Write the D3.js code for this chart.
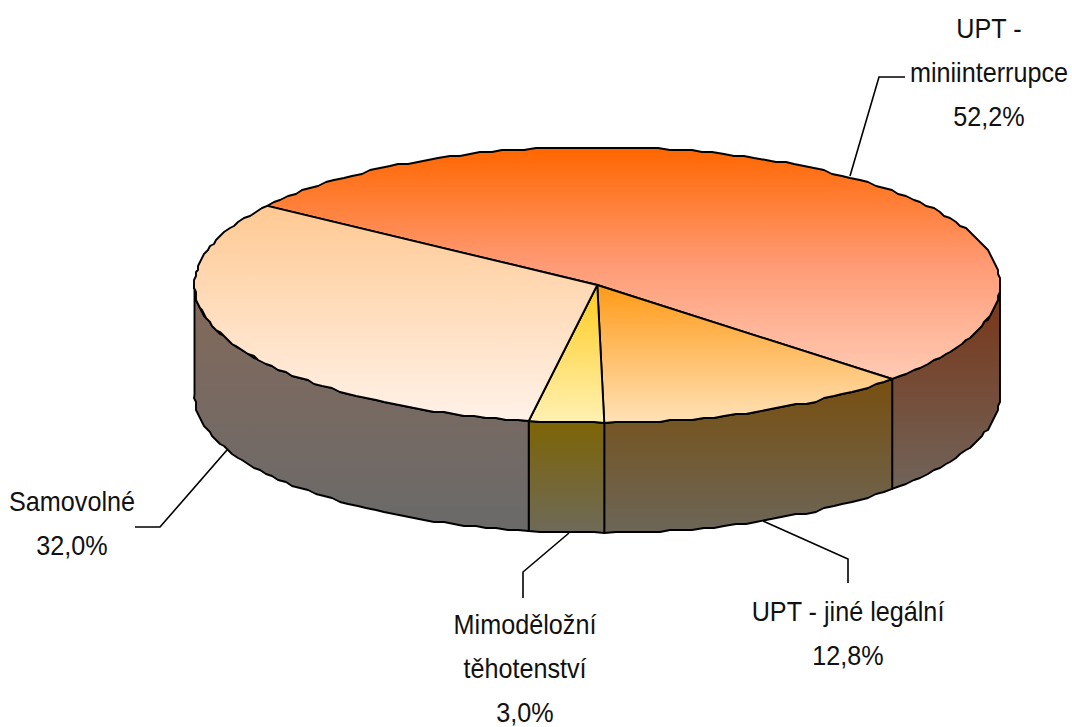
<!DOCTYPE html>
<html>
<head>
<meta charset="utf-8">
<script src="https://cdn.jsdelivr.net/npm/d3@7"></script>
<style>
  html, body { margin: 0; padding: 0; background: #fff; }
  text { font-family: "Liberation Sans", Arial, sans-serif; font-size: 28px; fill: #111; }
</style>
</head>
<body>
<svg id="chart" width="1072" height="727"></svg>
<script>
var categories = ["UPT - miniinterrupce", "UPT - jiné legální", "Mimoděložní těhotenství", "Samovolné"];
var shares = [52.2, 12.8, 3.0, 32.0];
var labelLines = [["UPT -", "miniinterrupce"], ["UPT - jiné legální"], ["Mimoděložní", "těhotenství"], ["Samovolné"]];

var topColors = [["#ff6600", "#ff9a74", "#ffcbb5"], ["#ff9a17", "#ffe2b8"], ["#ffcb1e", "#fff1b4"], ["#ffc993", "#fff2e9"]];
var sideColors = [["#7a3415", "#70645a"], ["#784f10", "#6c6658"], ["#7d6404", "#6e6a5a"], ["#84695a", "#6a6a6a"]];

// label anchor (x, first baseline) and leader line for each slice
var labelPos = [[989, 38], [848, 621], [525, 634], [72, 511]];
var leaders = [
  [[850, 176], [879, 77], [905, 77]],
  [[763, 521], [848, 559], [848, 583]],
  [[569, 533], [523, 572], [523, 598]],
  [[227, 450], [160, 527], [135, 527]]
];

var lineGap = 44, squeeze = 0.9, depth = 110, grid = 2;
var deg = Math.PI / 180;

var svg = d3.select("#chart");
var comma = d3.formatLocale({decimal: ",", thousands: " ", grouping: [3], currency: ["", ""]}).format(".1f");

var xScale = d3.scaleLinear().domain([-1, 1]).range([194.5, 1000]);
var yScale = d3.scaleLinear().domain([-1, 1]).range([147, 423]);

var pie = d3.pie().sort(null).startAngle(-55 * deg).endAngle(305 * deg);
var slices = pie(shares);

// the rim of the reference is slightly stepped, so snap it to a coarse grid
function snap(v) { return Math.round(v / grid) * grid; }
function rimPoint(a) { return [xScale(Math.sin(a)), yScale(-Math.cos(a))]; }
function rim(a0, a1) {
  var n = Math.max(2, Math.ceil((a1 - a0) / (1.6 * deg)));
  return d3.range(n + 1).map(function(i) {
    var p = rimPoint(a0 + (a1 - a0) * i / n);
    return (i == 0 || i == n) ? p : [snap(p[0]), snap(p[1])];
  });
}

var line = d3.line();
var defs = svg.append("defs");

function gradient(id, colors) {
  var g = defs.append("linearGradient").attr("id", id)
    .attr("x1", 0).attr("y1", 0).attr("x2", 0).attr("y2", 1);
  colors.forEach(function(c, i) {
    g.append("stop").attr("offset", i / (colors.length - 1)).attr("stop-color", c);
  });
}
topColors.forEach(function(c, i) { gradient("top" + i, c); });
sideColors.forEach(function(c, i) { gradient("side" + i, c); });

// walls first, only the part of the rim that faces the viewer
slices.forEach(function(s, i) {
  var a0 = Math.max(s.startAngle, 90 * deg), a1 = Math.min(s.endAngle, 270 * deg);
  if (a1 <= a0) return;
  var upper = rim(a0, a1);
  var lower = upper.slice().reverse().map(function(p) { return [p[0], p[1] + depth]; });
  svg.append("path")
    .attr("d", line(upper.concat(lower)) + "Z")
    .attr("fill", "url(#side" + i + ")")
    .attr("stroke", "#000")
    .attr("stroke-width", 1.9)
    .attr("stroke-linejoin", "round");
});

// top face
var centre = [xScale(0), yScale(0)];
slices.forEach(function(s, i) {
  var pts = [centre].concat(rim(s.startAngle, s.endAngle));
  svg.append("path")
    .attr("d", line(pts) + "Z")
    .attr("fill", "url(#top" + i + ")")
    .attr("stroke", "#000")
    .attr("stroke-width", 1.9)
    .attr("stroke-linejoin", "round");
});

leaders.forEach(function(l) {
  svg.append("path").attr("d", line(l))
    .attr("fill", "none").attr("stroke", "#000").attr("stroke-width", 1.6);
});

categories.forEach(function(c, i) {
  var rows = labelLines[i].concat([comma(shares[i]) + "%"]);
  rows.forEach(function(r, j) {
    svg.append("text")
      .attr("text-anchor", "middle")
      .attr("transform", "translate(" + labelPos[i][0] + "," + (labelPos[i][1] + j * lineGap) + ") scale(" + squeeze + ",1)")
      .text(r);
  });
});
</script>
</body>
</html>
